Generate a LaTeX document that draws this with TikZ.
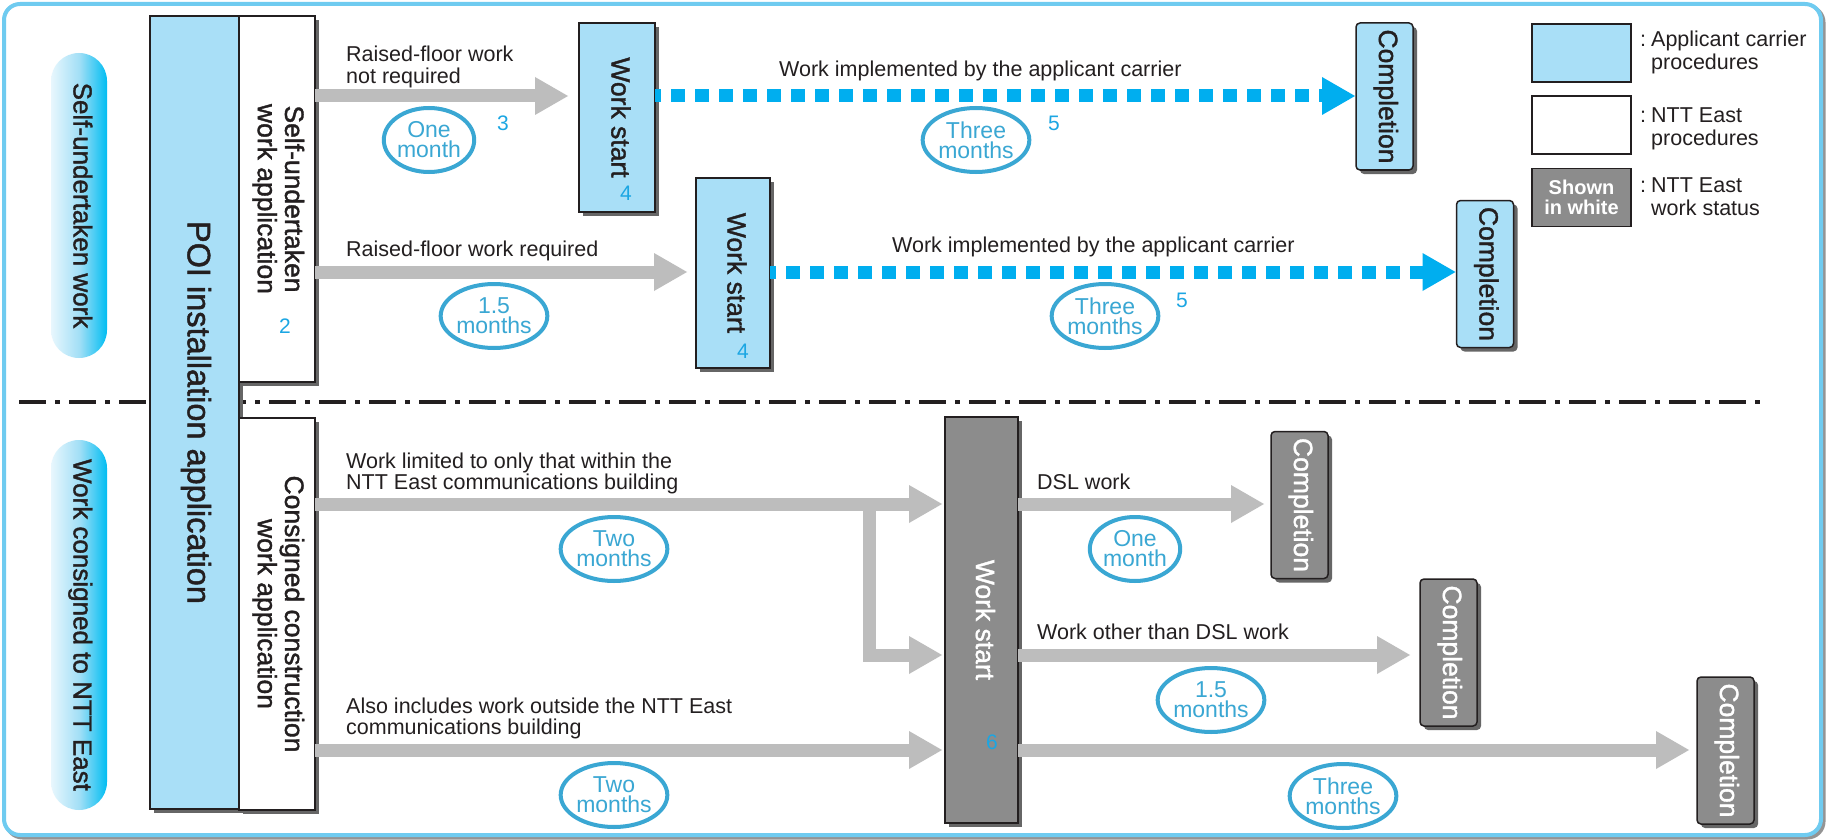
\documentclass[tikz,border=0pt]{standalone}
\usepackage{fontspec}
\setmainfont{Liberation Sans}
\newfontfamily\boxfamily[FakeBold=1.4]{Liberation Sans}
\usepackage{graphicx}
\usetikzlibrary{positioning, arrows.meta, shapes.geometric, shadows}

\definecolor{frameblue}{HTML}{6FCBF0}
\definecolor{procblue}{HTML}{A9DFF7}
\definecolor{statusgray}{HTML}{8C8C8C}
\definecolor{flowgray}{HTML}{BDBDBD}
\definecolor{carrierblue}{HTML}{00AEEF}
\definecolor{spanblue}{HTML}{3AA7D3}
\definecolor{numblue}{HTML}{1BA6E3}
\definecolor{shadowgray}{HTML}{666666}
\definecolor{inkgray}{HTML}{231F20}
\definecolor{pillpale}{HTML}{E8F7FD}
\definecolor{pillmid}{HTML}{A3DFF6}
\definecolor{pillcyan}{HTML}{00BDF2}

\newcommand{\vtext}[1]{\rotatebox{-90}{\begin{tabular}{@{}c@{}}#1\end{tabular}}}
\newcommand{\lines}[1]{\begin{tabular}[t]{@{}l@{}}#1\end{tabular}}
\newcommand{\keytext}[2]{\begin{tabular}[t]{@{}l@{\hspace{5pt}}l@{}}:&#1\\&#2\end{tabular}}

\tikzset{boxbase/.style={draw=inkgray, line width=1.5pt, inner sep=0pt, outer sep=0pt, text=inkgray, font=\boxfamily\fontsize{26.5}{27}\selectfont}}
\tikzset{boxshadow/.style={drop shadow={shadow xshift=4pt, shadow yshift=-4pt, fill=shadowgray, opacity=1}}}
\tikzset{carrierbox/.style={boxbase, boxshadow, fill=procblue}}
\tikzset{nttbox/.style={boxbase, boxshadow, fill=white}}
\tikzset{statusbox/.style={boxbase, boxshadow, fill=statusgray, text=white}}
\tikzset{donebox/.style={minimum width=57pt, minimum height=147pt, rounded corners=4pt}}
\tikzset{pill/.style={rounded corners=28pt, minimum width=56pt, inner sep=0pt, left color=pillpale, right color=pillcyan, middle color=pillmid, text=inkgray, font=\boxfamily\fontsize{26}{27}\selectfont}}
\tikzset{spanoval/.style={ellipse, draw=spanblue, line width=4pt, minimum width=97pt, minimum height=64pt, inner sep=0pt, text=spanblue, align=center, font=\fontsize{23}{20}\selectfont}}
\tikzset{stepno/.style={inner sep=0pt, text=numblue, font=\fontsize{21}{21}\selectfont}}
\tikzset{flownote/.style={inner sep=0pt, anchor=base west, text=inkgray, font=\fontsize{21.5}{21}\selectfont}}
\tikzset{keynote/.style={inner sep=0pt, anchor=base west, text=inkgray, font=\fontsize{21.5}{22.5}\selectfont}}
\tikzset{grayflow/.style={draw=flowgray, line width=13pt, line join=miter, -{Triangle[length=33pt, width=38pt, line width=0pt]}}}
\tikzset{carrierflow/.style={draw=carrierblue, line width=13pt, dash pattern=on 14pt off 10pt, dash phase=8pt, -{Triangle[length=33pt, width=38pt, line width=0pt]}}}
\tikzset{keybox/.style={draw=inkgray, line width=1.2pt, minimum width=99pt, minimum height=58pt, inner sep=0pt}}

\begin{document}
\begin{tikzpicture}[x=1pt, y=-1pt]
  \useasboundingbox (0,0) rectangle (1826,840);

  % frame and separator
  \draw[shadowgray!70, line width=4pt, rounded corners=16pt] (6.5,6.5) rectangle (1823.5,837.5);
  \draw[frameblue, line width=4pt, fill=white, rounded corners=16pt] (4,4) rectangle (1821,835);
  \draw[inkgray, line width=3.5pt, dash pattern=on 27pt off 9pt on 5pt off 9pt] (19,402) -- (1760,402);

  % left column
  \node[pill, minimum height=305pt] (pillself) at (79,205.5) {\vtext{Self-undertaken work}};
  \node[pill, minimum height=370pt] (pillntt) at (79,625) {\vtext{Work consigned to NTT East}};
  \node[carrierbox, minimum width=89pt, minimum height=793pt, font=\boxfamily\fontsize{32.5}{33}\selectfont] (poi) at (194.5,412.5) {\vtext{POI installation application}};
  \node[nttbox, minimum width=76pt, minimum height=366pt] (selfapp) at (277,199) {\vtext{Self-undertaken\\work application}};
  \node[nttbox, minimum width=76pt, minimum height=392pt] (consapp) at (277,614) {\vtext{Consigned construction\\work application}};

  % work start and completion
  \node[carrierbox, minimum width=76pt, minimum height=189pt] (wsnofloor) at (617,117.5) {\vtext{Work start}};
  \node[carrierbox, minimum width=74pt, minimum height=190pt] (wsfloor) at (733,273) {\vtext{Work start}};
  \node[statusbox, minimum width=73pt, minimum height=406pt] (wsntt) at (981.5,620) {\vtext{Work start}};
  \node[carrierbox, donebox] (donenofloor) at (1384.5,96.5) {\vtext{Completion}};
  \node[carrierbox, donebox] (donefloor) at (1485,274) {\vtext{Completion}};
  \node[statusbox, donebox] (donedsl) at (1299.5,505) {\vtext{Completion}};
  \node[statusbox, donebox] (doneother) at (1448.5,652.5) {\vtext{Completion}};
  \node[statusbox, donebox] (doneout) at (1725.5,750.5) {\vtext{Completion}};

  \coordinate (rowa) at (0,96);
  \coordinate (rowb) at (0,272);
  \coordinate (rowc) at (0,504);
  \coordinate (rowd) at (0,655);
  \coordinate (rowe) at (0,750);
  \coordinate (fork) at (869,504);

  \draw[grayflow, shorten >=11pt] (selfapp.east |- rowa) -- (wsnofloor.west |- rowa);
  \draw[grayflow, shorten >=9pt] (selfapp.east |- rowb) -- (wsfloor.west |- rowb);
  \draw[carrierflow, shorten >=1pt] (wsnofloor.east |- rowa) -- (donenofloor.west |- rowa);
  \draw[carrierflow, shorten >=1pt] (wsfloor.east |- rowb) -- (donefloor.west |- rowb);
  \draw[grayflow, shorten >=3pt] (consapp.east |- rowc) -- (wsntt.west |- rowc);
  \draw[grayflow, shorten >=3pt] (fork) |- (wsntt.west |- rowd);
  \draw[grayflow, shorten >=3pt] (consapp.east |- rowe) -- (wsntt.west |- rowe);
  \draw[grayflow, shorten >=7pt] (wsntt.east |- rowc) -- (donedsl.west |- rowc);
  \draw[grayflow, shorten >=10pt] (wsntt.east |- rowd) -- (doneother.west |- rowd);
  \draw[grayflow, shorten >=8pt] (wsntt.east |- rowe) -- (doneout.west |- rowe);

  % texts on the arrows
  \node[flownote] (txnofloor) at (346,62) {\lines{Raised-floor work\\not required}};
  \node[flownote] (txfloor) at (346,256) {Raised-floor work required};
  \node[flownote] (txcarriera) at (779,77) {Work implemented by the applicant carrier};
  \node[flownote] (txcarrierb) at (892,252) {Work implemented by the applicant carrier};
  \node[flownote] (txinside) at (346,468) {\lines{Work limited to only that within the\\NTT East communications building}};
  \node[flownote] (txoutside) at (346,713) {\lines{Also includes work outside the NTT East\\communications building}};
  \node[flownote] (txdsl) at (1037,489) {DSL work};
  \node[flownote] (txother) at (1037,639) {Work other than DSL work};

  % periods
  \node[spanoval, minimum width=90pt] (spanone) at (429,140) {One\\month};
  \node[spanoval, minimum width=103pt] (spanhalf) at (494,316) {1.5\\months};
  \node[spanoval] (spanthreea) at (976,140) {Three\\months};
  \node[spanoval] (spanthreeb) at (1105,316) {Three\\months};
  \node[spanoval, minimum width=99pt] (spantwoa) at (614,549) {Two\\months};
  \node[spanoval, minimum width=99pt] (spantwob) at (614,795) {Two\\months};
  \node[spanoval, minimum width=90pt] (spandsl) at (1135,549) {One\\month};
  \node[spanoval, minimum width=103pt] (spanother) at (1211,700) {1.5\\months};
  \node[spanoval] (spanout) at (1343,796) {Three\\months};

  % step numbers
  \node[stepno] (nselfapp) at (285,326) {2};
  \node[stepno] (nnofloor) at (503,123) {3};
  \node[stepno] (nwsa) at (626,193) {4};
  \node[stepno] (nwsb) at (743,351) {4};
  \node[stepno] (ncarriera) at (1054,123) {5};
  \node[stepno] (ncarrierb) at (1182,300) {5};
  \node[stepno] (nntt) at (992,742) {6};

  % legend
  \node[keybox, fill=procblue] (keycarrier) at (1581.5,53) {};
  \node[keybox, fill=white] (keyntt) at (1581.5,125) {};
  \node[keybox, fill=statusgray, text=white, align=center, font=\fontsize{20}{20.5}\selectfont\bfseries] (keystatus) at (1581.5,197.5) {Shown\\in white};
  \node[keynote] (keytxcarrier) at (1640,47) {\keytext{Applicant carrier}{procedures}};
  \node[keynote] (keytxntt) at (1640,123) {\keytext{NTT East}{procedures}};
  \node[keynote] (keytxstatus) at (1640,193) {\keytext{NTT East}{work status}};
\end{tikzpicture}
\end{document}
